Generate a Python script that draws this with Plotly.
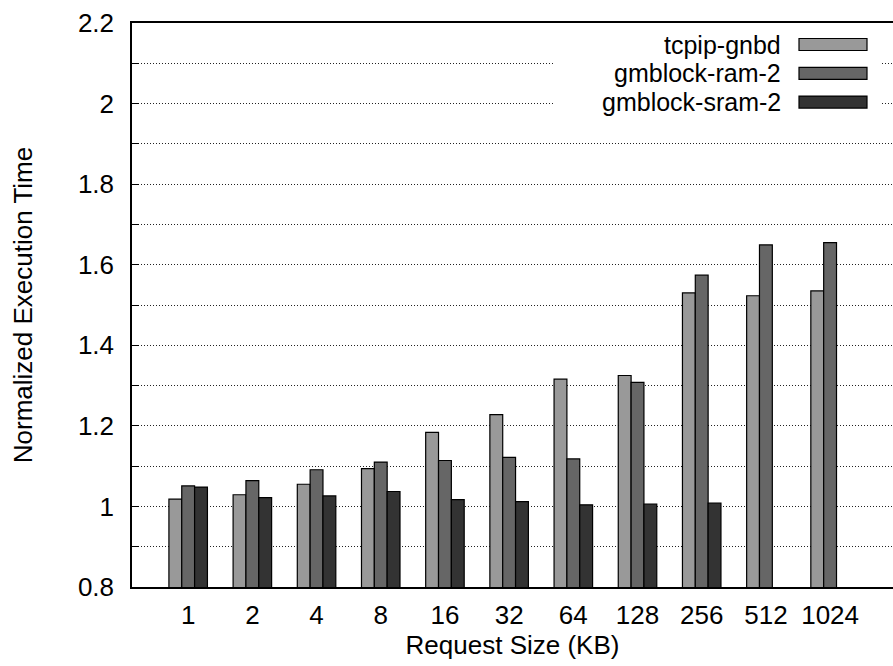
import plotly.graph_objects as go

categories = ["1", "2", "4", "8", "16", "32", "64", "128", "256", "512", "1024"]
series_names = ["tcpip-gnbd", "gmblock-ram-2", "gmblock-sram-2"]
tcpip_gnbd = [1.018, 1.029, 1.055, 1.094, 1.184, 1.228, 1.316, 1.325, 1.530, 1.523, 1.535]
gmblock_ram_2 = [1.051, 1.064, 1.091, 1.110, 1.114, 1.122, 1.118, 1.308, 1.574, 1.649, 1.655]
gmblock_sram_2 = [1.048, 1.022, 1.026, 1.037, 1.017, 1.012, 1.004, 1.006, 1.008, None, None]
y_ticks = [0.8, 1.0, 1.2, 1.4, 1.6, 1.8, 2.0, 2.2]
y_tick_text = ["0.8", "1", "1.2", "1.4", "1.6", "1.8", "2", "2.2"]

colors = ["#999999", "#666666", "#333333"]
series = [tcpip_gnbd, gmblock_ram_2, gmblock_sram_2]

FONT = "Liberation Sans, Arial, Helvetica, sans-serif"
FS = 26

W, H = 893, 666
L, R, T, B = 132, 0, 23, 79
PW, PH = W - L - R, H - T - B

fig = go.Figure()
xs = list(range(len(categories)))
for name, vals, c in zip(series_names, series, colors):
    fig.add_trace(go.Bar(
        x=xs, y=vals, name=name,
        marker=dict(color=c, line=dict(color="#000000", width=1.2)),
        showlegend=False,
    ))

def px_to_paper_x(px):
    return (px - L) / PW

def px_to_paper_y(py):
    return (T + PH - py) / PH

shapes = [
    dict(type="rect", xref="paper", yref="paper",
         x0=px_to_paper_x(555), x1=px_to_paper_x(882),
         y0=px_to_paper_y(115), y1=px_to_paper_y(29),
         fillcolor="white", line=dict(width=0), layer="above"),
]
annotations = []
row_y = [44.5, 73.3, 102.1]
for name, c, ry in zip(series_names, colors, row_y):
    annotations.append(dict(
        xref="paper", yref="paper", x=px_to_paper_x(782), y=px_to_paper_y(ry),
        xanchor="right", yanchor="middle", text=name, showarrow=False,
        borderpad=0,
        font=dict(family=FONT, size=25, color="black"),
    ))
    shapes.append(dict(
        type="rect", xref="paper", yref="paper",
        x0=px_to_paper_x(799), x1=px_to_paper_x(867),
        y0=px_to_paper_y(ry + 6), y1=px_to_paper_y(ry - 6),
        fillcolor=c, line=dict(color="black", width=1.2), layer="above",
    ))

fig.update_layout(
    width=W, height=H,
    margin=dict(l=L, r=R, t=T, b=B, autoexpand=False),
    paper_bgcolor="white", plot_bgcolor="white",
    barmode="group", bargap=0.4, bargroupgap=0,
    font=dict(family=FONT, size=FS, color="black"),
    shapes=shapes, annotations=annotations,
    showlegend=False,
)
fig.update_xaxes(
    range=[-0.875, 10.98],
    tickmode="array", tickvals=xs, ticktext=categories,
    showgrid=False, zeroline=False,
    showline=True, linecolor="black", linewidth=1.5, mirror=True,
    ticks="", ticklabelstandoff=4,
    tickfont=dict(family=FONT, size=FS, color="black"),
    title=dict(text="Request Size (KB)", standoff=6,
               font=dict(family=FONT, size=FS, color="black")),
)
fig.update_yaxes(
    range=[0.8, 2.2],
    tickmode="array", tickvals=y_ticks, ticktext=y_tick_text,
    showgrid=True, gridcolor="#222222", gridwidth=1, griddash="1px,2px",
    zeroline=False,
    showline=True, linecolor="black", linewidth=1.5,
    ticks="inside", ticklen=7, tickcolor="black",
    ticklabelstandoff=11,
    tickfont=dict(family=FONT, size=FS, color="black"),
    minor=dict(dtick=0.1, tick0=0.8, showgrid=True, gridcolor="#222222",
               gridwidth=1, griddash="1px,2px", ticks="inside", ticklen=7,
               tickcolor="black"),
    title=dict(text="Normalized Execution Time", standoff=38,
               font=dict(family=FONT, size=FS, color="black")),
)

fig.write_html("out.html")
